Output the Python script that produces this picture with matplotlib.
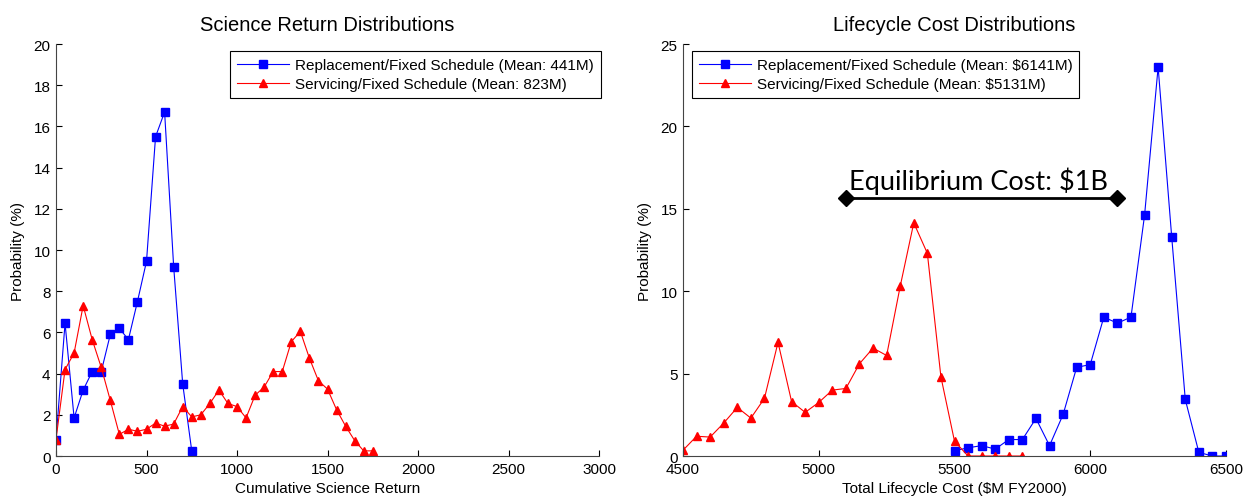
import numpy as np
import matplotlib.pyplot as plt

plt.rcParams['font.family'] = ['Liberation Sans', 'DejaVu Sans']

# science return (left panel)
sci_x_repl = [0, 50, 100, 150, 200, 250, 300, 350, 400, 450, 500, 550, 600, 650, 700, 750]
sci_y_repl = [0.8, 6.45, 1.85, 3.2, 4.1, 4.1, 5.9, 6.2, 5.65, 7.5, 9.45, 15.5, 16.7, 9.2, 3.5, 0.25]

sci_x_serv = [0, 50, 100, 150, 200, 250, 300, 350, 400, 450, 500, 550, 600, 650, 700, 750,
              800, 850, 900, 950, 1000, 1050, 1100, 1150, 1200, 1250, 1300, 1350, 1400, 1450,
              1500, 1550, 1600, 1650, 1700, 1750]
sci_y_serv = [0.8, 4.2, 5.0, 7.3, 5.65, 4.3, 2.7, 1.05, 1.3, 1.2, 1.3, 1.6, 1.45, 1.55, 2.4, 1.9,
              2.0, 2.55, 3.2, 2.55, 2.4, 1.85, 2.95, 3.35, 4.1, 4.1, 5.55, 6.05, 4.75, 3.65,
              3.25, 2.25, 1.45, 0.75, 0.25, 0.25]

# lifecycle cost (right panel)
cost_x_repl = [5500, 5550, 5600, 5650, 5700, 5750, 5800, 5850, 5900, 5950, 6000, 6050, 6100,
               6150, 6200, 6250, 6300, 6350, 6400, 6450, 6500]
cost_y_repl = [0.32, 0.5, 0.63, 0.42, 1.0, 1.0, 2.28, 0.63, 2.52, 5.38, 5.55, 8.43, 8.06,
               8.43, 14.6, 23.6, 13.3, 3.43, 0.22, 0.0, 0.0]

cost_x_serv = [4500, 4550, 4600, 4650, 4700, 4750, 4800, 4850, 4900, 4950, 5000, 5050, 5100,
               5150, 5200, 5250, 5300, 5350, 5400, 5450, 5500, 5550, 5600, 5650, 5700, 5750]
cost_y_serv = [0.35, 1.2, 1.15, 2.0, 2.95, 2.3, 3.5, 6.9, 3.3, 2.65, 3.25, 4.0, 4.1,
               5.6, 6.55, 6.1, 10.3, 14.15, 12.3, 4.8, 0.9, 0.0, 0.0, 0.0, 0.0, 0.0]

equil_x = [5100, 6100]
equil_y = 15.65

fig = plt.figure(figsize=(12.5, 5.02), dpi=100)
ax1 = fig.add_axes([0.0448, 0.0896, 0.4344, 0.8207])
ax2 = fig.add_axes([0.5464, 0.0896, 0.4344, 0.8207])

ax1.plot(sci_x_repl, sci_y_repl, color='#0000ff', marker='s', markersize=5.5, linewidth=0.8,
         label='Replacement/Fixed Schedule (Mean: 441M)')
ax1.plot(sci_x_serv, sci_y_serv, color='#ff0000', marker='^', markersize=6, linewidth=0.8,
         label='Servicing/Fixed Schedule (Mean: 823M)')
ax1.set_xlim(0, 3000)
ax1.set_ylim(0, 20)
ax1.set_xticks(np.arange(0, 3001, 500))
ax1.set_yticks(np.arange(0, 21, 2))
ax1.set_title('Science Return Distributions', fontsize=14.5, pad=10)
ax1.set_xlabel('Cumulative Science Return', fontsize=11, labelpad=4)
ax1.set_ylabel('Probability (%)', fontsize=11, labelpad=6)

ax2.plot(cost_x_repl, cost_y_repl, color='#0000ff', marker='s', markersize=5.5, linewidth=0.8,
         label='Replacement/Fixed Schedule (Mean: $6141M)')
ax2.plot(cost_x_serv, cost_y_serv, color='#ff0000', marker='^', markersize=6, linewidth=0.8,
         label='Servicing/Fixed Schedule (Mean: $5131M)')
ax2.set_xlim(4500, 6500)
ax2.set_ylim(0, 25)
ax2.set_xticks(np.arange(4500, 6501, 500))
ax2.set_yticks(np.arange(0, 26, 5))
ax2.set_title('Lifecycle Cost Distributions', fontsize=14.5, pad=10)
ax2.set_xlabel('Total Lifecycle Cost ($M FY2000)', fontsize=11, labelpad=4)
ax2.set_ylabel('Probability (%)', fontsize=11, labelpad=6)

# equilibrium cost bracket
ax2.plot(equil_x, [equil_y, equil_y], color='black', linewidth=2, marker='D', markersize=8)
ax2.text(np.mean(equil_x) - 10, equil_y + 0.55, 'Equilibrium Cost: $1B', ha='center',
         va='baseline', fontsize=19.5, family=['Lato', 'DejaVu Sans'])

legend_spots = [(ax1, 'upper right', (1.003, 0.983)), (ax2, 'upper left', (0.016, 0.983))]
for ax, loc, anchor in legend_spots:
    ax.spines['top'].set_visible(False)
    ax.spines['right'].set_visible(False)
    ax.spines['left'].set_color('#444444')
    ax.spines['bottom'].set_color('#444444')
    ax.tick_params(direction='in', length=4, labelsize=11, pad=4)
    leg = ax.legend(loc=loc, bbox_to_anchor=anchor, fontsize=11,
                    fancybox=False, edgecolor='black', framealpha=1, borderpad=0.45,
                    handlelength=3.4, handletextpad=0.4, labelspacing=0.35, borderaxespad=0)
    leg.get_frame().set_linewidth(0.8)

fig.savefig('out.png', dpi=100)
